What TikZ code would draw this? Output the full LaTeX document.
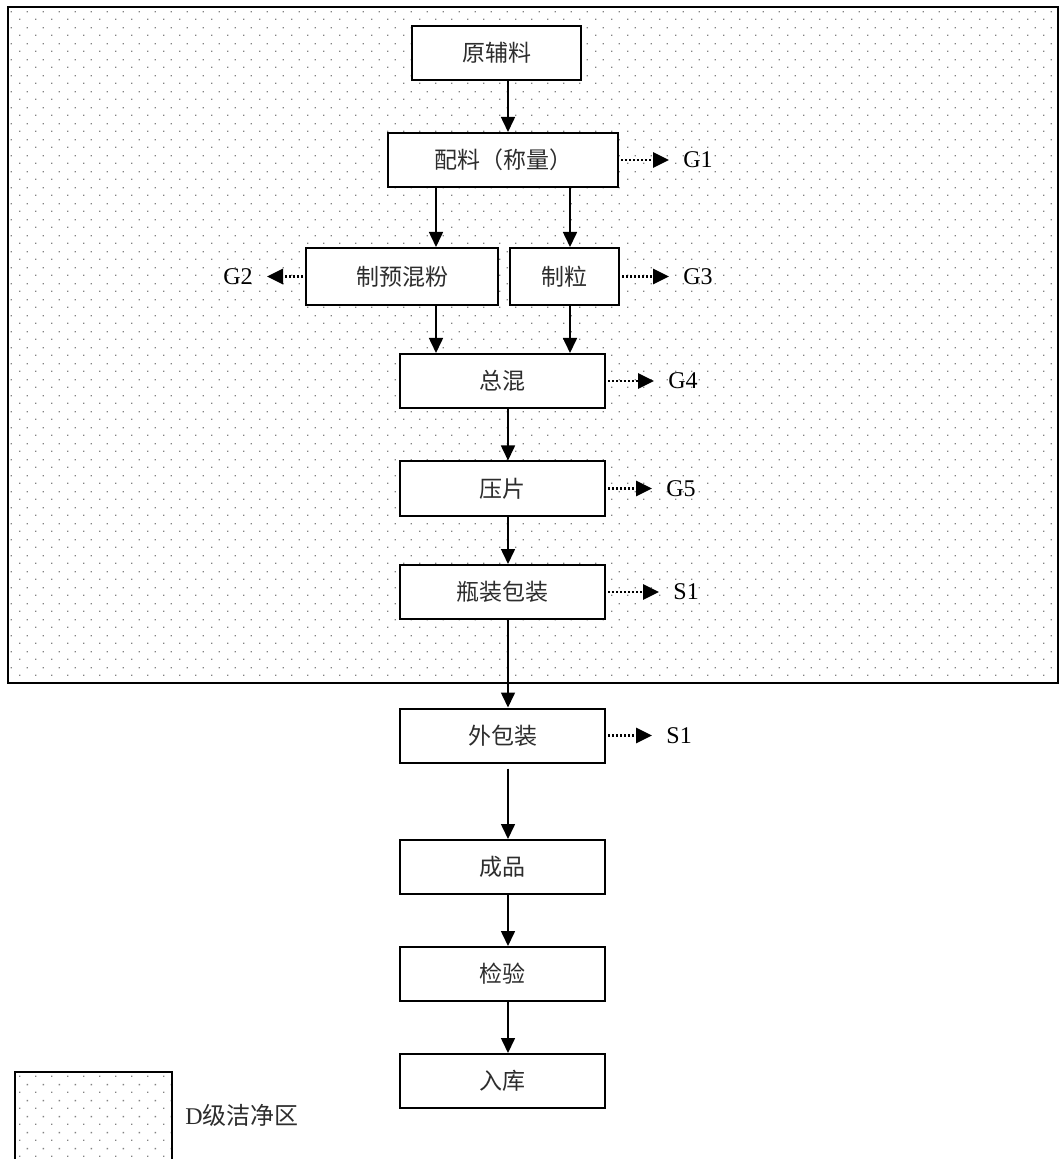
\documentclass[tikz,border=0pt]{standalone}
\usepackage{fontspec}
\setmainfont{Liberation Serif}
\newfontfamily\cjk{Noto Sans CJK SC}
\usepackage{tikz}
\usetikzlibrary{arrows.meta, patterns}
\definecolor{dot_gray}{RGB}{130,130,130}
\definecolor{text_gray}{RGB}{45,45,45}
% dotted fill of the clean zone
\pgfdeclarepatternformonly{cleandots}{\pgfpointorigin}{\pgfqpoint{8pt}{8pt}}{\pgfqpoint{8pt}{8pt}}{
  \pgfpathrectangle{\pgfqpoint{1.6pt}{1.6pt}}{\pgfqpoint{0.75pt}{0.75pt}}
  \pgfpathrectangle{\pgfqpoint{5.6pt}{5.6pt}}{\pgfqpoint{0.75pt}{0.75pt}}
  \pgfusepath{fill}}
\tikzstyle{stage} = [rectangle, draw, line width=1pt, fill=white, minimum height=27pt,
                    inner sep=0pt, text=text_gray, font=\cjk\fontsize{11.5}{14}\selectfont]
\tikzstyle{arrow} = [line width=0.8pt, -{Triangle[width=7pt,length=7.5pt]}]
\tikzstyle{emit} = [line width=1.4pt, dash pattern=on 1.1pt off 0.9pt,
                    -{Triangle[width=7.5pt,length=8pt]}, shorten >=7pt, shorten <=1pt]
\tikzstyle{outlet} = [inner sep=0pt, font=\fontsize{12}{14}\selectfont]

\begin{document}
\begin{tikzpicture}[x=0.5pt, y=-0.5pt]

    \useasboundingbox (0,0) rectangle (1059,1159);

    % D-class clean zone
    \draw[line width=1pt, pattern=cleandots, pattern color=dot_gray] (8,7) rectangle (1058,683);

    \coordinate (laneL) at (436,0);
    \coordinate (laneR) at (570,0);
    \coordinate (laneM) at (508,0);

    \node[stage, minimum width=84.5pt] (raw) at (496.5,53) {原辅料};
    \node[stage, minimum width=115pt] (weigh) at (503,160) {配料（称量）};
    \node[stage, minimum width=96pt, minimum height=28.5pt] (premix) at (402,276.5) {制预混粉};
    \node[stage, minimum width=54.5pt, minimum height=28.5pt] (gran) at (564.5,276.5) {制粒};
    \node[stage, minimum width=102.5pt] (mix) at (502.5,381) {总混};
    \node[stage, minimum width=102.5pt] (press) at (502.5,488.5) {压片};
    \node[stage, minimum width=102.5pt] (bottle) at (502.5,592) {瓶装包装};
    \node[stage, minimum width=102.5pt] (outer) at (502.5,735.5) {外包装};
    \node[stage, minimum width=102.5pt] (product) at (502.5,867) {成品};
    \node[stage, minimum width=102.5pt] (test) at (502.5,974) {检验};
    \node[stage, minimum width=102.5pt] (store) at (502.5,1081) {入库};

    \node[outlet, anchor=west] (g1) at (683,160) {G1};
    \node[outlet, anchor=east] (g2) at (253,276.5) {G2};
    \node[outlet, anchor=west] (g3) at (683,276.5) {G3};
    \node[outlet, anchor=west] (g4) at (668,381) {G4};
    \node[outlet, anchor=west] (g5) at (666,488.5) {G5};
    \node[outlet, anchor=west] (s1a) at (673,592) {S1};
    \node[outlet, anchor=west] (s1b) at (666,735.5) {S1};

    \draw[arrow] (raw.south -| laneM) -- (weigh.north -| laneM);
    \draw[arrow] (weigh.south -| laneL) -- (premix.north -| laneL);
    \draw[arrow] (weigh.south -| laneR) -- (gran.north -| laneR);
    \draw[arrow] (premix.south -| laneL) -- (mix.north -| laneL);
    \draw[arrow] (gran.south -| laneR) -- (mix.north -| laneR);
    \draw[arrow] (mix.south -| laneM) -- (press.north -| laneM);
    \draw[arrow] (press.south -| laneM) -- (bottle.north -| laneM);
    \draw[arrow] (bottle.south -| laneM) -- (outer.north -| laneM);
    \draw[arrow, shorten <=2.5pt] (outer.south -| laneM) -- (product.north -| laneM);
    \draw[arrow] (product.south -| laneM) -- (test.north -| laneM);
    \draw[arrow] (test.south -| laneM) -- (store.north -| laneM);

    \draw[emit] (weigh.east) -- (g1.west);
    \draw[emit] (premix.west) -- (g2.east);
    \draw[emit] (gran.east) -- (g3.west);
    \draw[emit] (mix.east) -- (g4.west);
    \draw[emit] (press.east) -- (g5.west);
    \draw[emit] (bottle.east) -- (s1a.west);
    \draw[emit] (outer.east) -- (s1b.west);

    % legend
    \draw[line width=1pt, pattern=cleandots, pattern color=dot_gray] (15,1072) rectangle (172,1180);
    \node[outlet, anchor=west, text=text_gray] (legend) at (185,1115) {D{\cjk 级洁净区}};

\end{tikzpicture}
\end{document}
